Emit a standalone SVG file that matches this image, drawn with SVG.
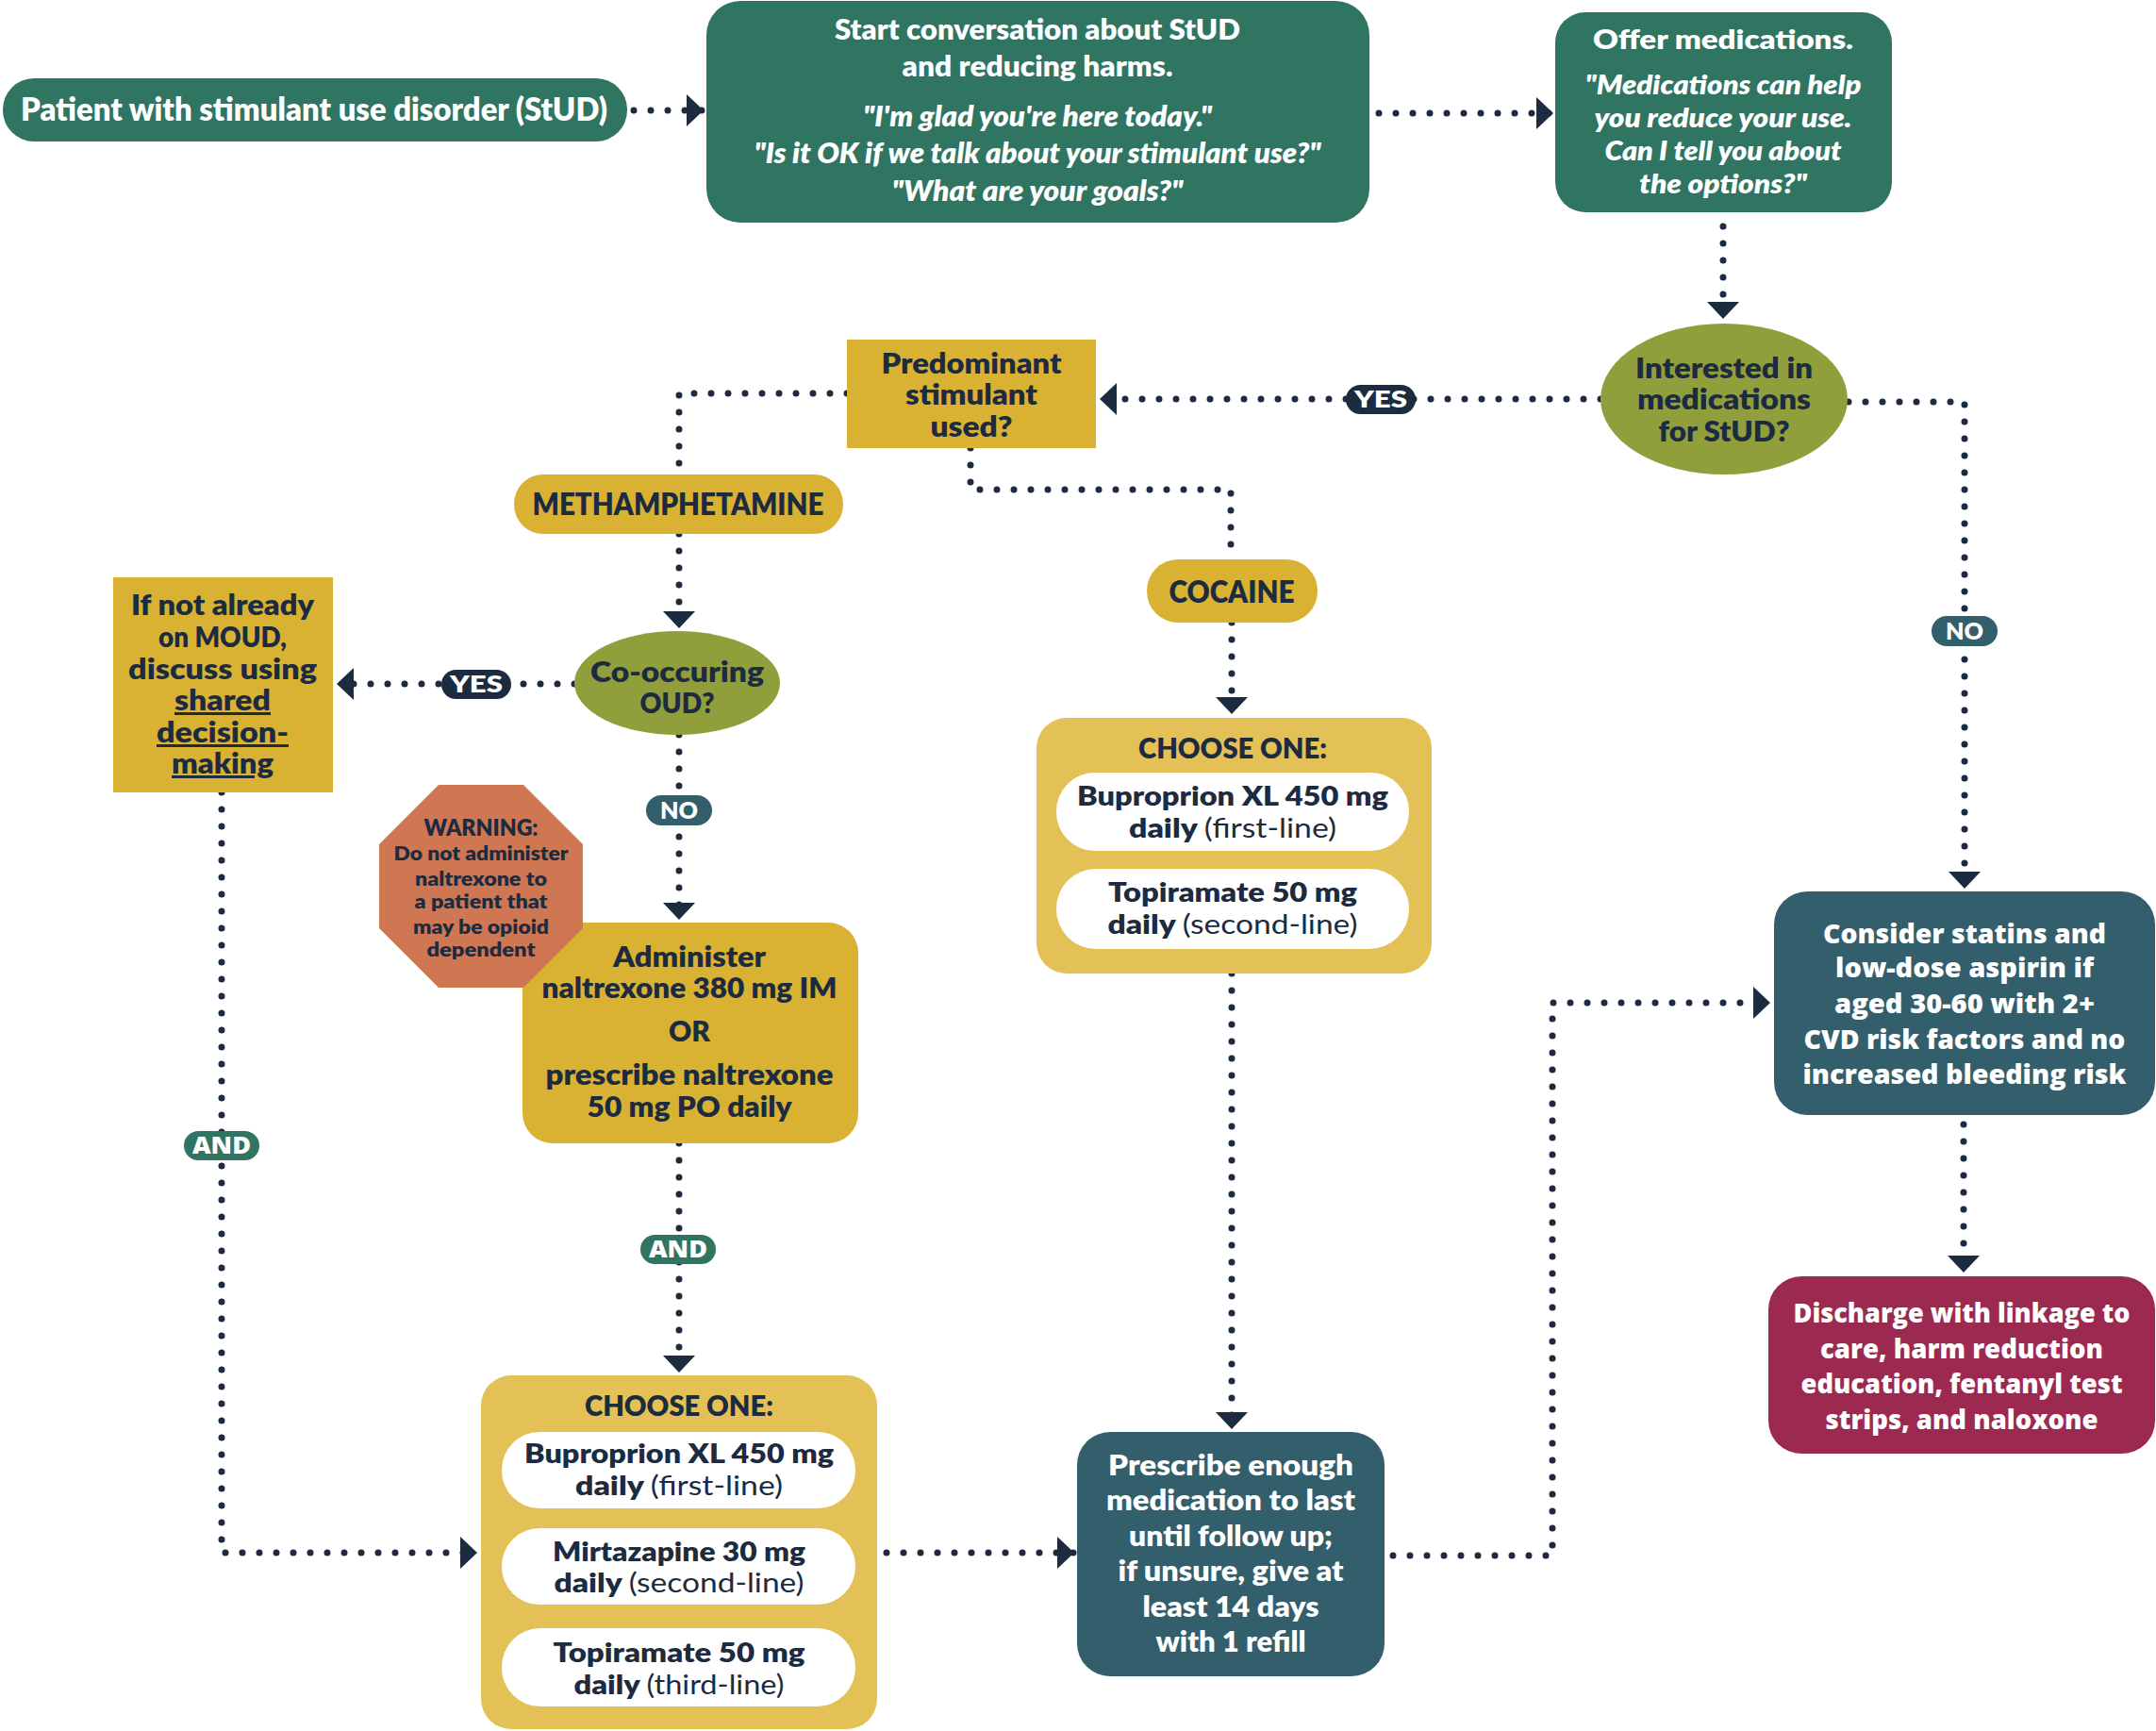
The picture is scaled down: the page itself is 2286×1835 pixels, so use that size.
<svg xmlns="http://www.w3.org/2000/svg" width="2286" height="1835" viewBox="0 0 2286 1835">
<style>
text{font-family:Lato,Roboto,"Liberation Sans",sans-serif;font-weight:800;text-anchor:middle}
.w{fill:#ffffff}
.n{fill:#1c2b40}
.it{font-style:italic}
.wide{font-family:"Open Sans",Lato,"Liberation Sans",sans-serif;font-weight:800}
.reg{font-weight:400}
.green{fill:#307462}
.slate{fill:#335e6b}
.gold{fill:#d9b133}
.lgold{fill:#e3c156}
.olive{fill:#909e3c}
.crim{fill:#9c2a50}
.orange{fill:#cf7652}
.pill{fill:#ffffff}
.c{fill:none;stroke:#1c2b40;stroke-width:7;stroke-linecap:round;stroke-dasharray:0 18}
.ca{marker-end:url(#ah)}
.lab{font-size:25px}
</style>
<defs>
<marker id="ah" viewBox="0 0 18 34" refX="18" refY="17" markerWidth="18" markerHeight="34" markerUnits="userSpaceOnUse" orient="auto">
<path d="M0,0 L18,17 L0,34 Z" fill="#1c2b40"/>
</marker>
</defs>
<rect width="2286" height="1835" fill="#ffffff"/>

<g id="connectors">
<path class="c ca" d="M672,117 H746"/>
<path class="c ca" d="M1462,120 H1647"/>
<path class="c ca" d="M1827,240 V338"/>
<path class="c ca" d="M1697,423 H1166"/>
<path class="c ca" d="M1960,426 H2083 V942"/>
<path class="c" d="M898,417 H720 V503"/>
<path class="c" d="M1029,475 V519 H1305 V593"/>
<path class="c ca" d="M720,566 V666"/>
<path class="c ca" d="M1306,660 V757"/>
<path class="c ca" d="M609,725 H357"/>
<path class="c ca" d="M720,779 V975"/>
<path class="c ca" d="M720,1212 V1455"/>
<path class="c ca" d="M235,840 V1646 H506"/>
<path class="c ca" d="M940,1646 H1139"/>
<path class="c ca" d="M1306,1032 V1515"/>
<path class="c ca" d="M1477,1649 H1646 V1063 H1877"/>
<path class="c ca" d="M2082,1192 V1349"/>
<g id="label-yes-1"><rect x="1427" y="408" width="74" height="31" rx="15.5" fill="#1c2b40"/><text class="w lab" x="1464" y="432" textLength="56" lengthAdjust="spacingAndGlyphs">YES</text></g>
<g id="label-yes-2"><rect x="468" y="710" width="74" height="31" rx="15.5" fill="#1c2b40"/><text class="w lab" x="505" y="734" textLength="56" lengthAdjust="spacingAndGlyphs">YES</text></g>
<g id="label-no-1"><rect x="2048" y="653" width="70" height="32" rx="16" class="slate"/><text class="w lab" x="2083" y="678" textLength="40" lengthAdjust="spacingAndGlyphs">NO</text></g>
<g id="label-no-2"><rect x="685" y="843" width="70" height="32" rx="16" class="slate"/><text class="w lab" x="720" y="868" textLength="40" lengthAdjust="spacingAndGlyphs">NO</text></g>
<g id="label-and-1"><rect x="679" y="1309" width="80" height="31" rx="15.5" class="green"/><text class="w lab wide" x="719" y="1333" textLength="62" lengthAdjust="spacingAndGlyphs">AND</text></g>
<g id="label-and-2"><rect x="195" y="1199" width="80" height="31" rx="15.5" class="green"/><text class="w lab wide" x="235" y="1223" textLength="62" lengthAdjust="spacingAndGlyphs">AND</text></g>
</g>

<g id="patient">
<rect x="3" y="83" width="662" height="67" rx="33" class="green"/>
<text class="w" x="333" y="128" font-size="33" textLength="622" lengthAdjust="spacingAndGlyphs">Patient with stimulant use disorder (StUD)</text>
</g>

<g id="start-conversation">
<rect x="749" y="1" width="703" height="235" rx="36" class="green"/>
<g font-size="30">
<text class="w" x="1100" y="42" textLength="430" lengthAdjust="spacingAndGlyphs">Start conversation about StUD</text>
<text class="w" x="1100" y="81" textLength="287" lengthAdjust="spacingAndGlyphs">and reducing harms.</text>
<text class="w it" x="1100" y="134" textLength="370" lengthAdjust="spacingAndGlyphs">"I'm glad you're here today."</text>
<text class="w it" x="1100" y="173" textLength="601" lengthAdjust="spacingAndGlyphs">"Is it OK if we talk about your stimulant use?"</text>
<text class="w it" x="1100" y="213" textLength="309" lengthAdjust="spacingAndGlyphs">"What are your goals?"</text>
</g>
</g>

<g id="offer-medications">
<rect x="1649" y="13" width="357" height="212" rx="32" class="green"/>
<g font-size="29">
<text class="w" x="1827" y="52" textLength="276" lengthAdjust="spacingAndGlyphs">Offer medications.</text>
<text class="w it" x="1827" y="100" textLength="293" lengthAdjust="spacingAndGlyphs">"Medications can help</text>
<text class="w it" x="1827" y="135" textLength="273" lengthAdjust="spacingAndGlyphs">you reduce your use.</text>
<text class="w it" x="1827" y="170" textLength="251" lengthAdjust="spacingAndGlyphs">Can I tell you about</text>
<text class="w it" x="1827" y="205" textLength="178" lengthAdjust="spacingAndGlyphs">the options?"</text>
</g>
</g>

<g id="interested">
<ellipse cx="1828" cy="423" rx="131" ry="80" class="olive"/>
<g font-size="30">
<text class="n" x="1828" y="401" textLength="188" lengthAdjust="spacingAndGlyphs">Interested in</text>
<text class="n" x="1828" y="434" textLength="184" lengthAdjust="spacingAndGlyphs">medications</text>
<text class="n" x="1828" y="468" textLength="139" lengthAdjust="spacingAndGlyphs">for StUD?</text>
</g>
</g>

<g id="predominant">
<rect x="898" y="360" width="264" height="115" class="gold"/>
<g font-size="30">
<text class="n" x="1030" y="396" textLength="191" lengthAdjust="spacingAndGlyphs">Predominant</text>
<text class="n" x="1030" y="429" textLength="140" lengthAdjust="spacingAndGlyphs">stimulant</text>
<text class="n" x="1030" y="463" textLength="87" lengthAdjust="spacingAndGlyphs">used?</text>
</g>
</g>

<g id="methamphetamine">
<rect x="545" y="503" width="349" height="63" rx="31" class="gold"/>
<text class="n" x="719" y="546" font-size="32" textLength="309" lengthAdjust="spacingAndGlyphs">METHAMPHETAMINE</text>
</g>

<g id="cocaine">
<rect x="1216" y="593" width="181" height="67" rx="33" class="gold"/>
<text class="n" x="1306" y="639" font-size="32" textLength="133" lengthAdjust="spacingAndGlyphs">COCAINE</text>
</g>

<g id="co-occuring">
<ellipse cx="718" cy="724" rx="109" ry="55" class="olive"/>
<g font-size="30">
<text class="n" x="718" y="723" textLength="184" lengthAdjust="spacingAndGlyphs">Co-occuring</text>
<text class="n" x="718" y="756" textLength="79" lengthAdjust="spacingAndGlyphs">OUD?</text>
</g>
</g>

<g id="shared-decision">
<rect x="120" y="612" width="233" height="228" class="gold"/>
<g font-size="30">
<text class="n" x="236" y="652" textLength="194" lengthAdjust="spacingAndGlyphs">If not already</text>
<text class="n" x="236" y="686" textLength="136" lengthAdjust="spacingAndGlyphs">on MOUD,</text>
<text class="n" x="236" y="720" textLength="200" lengthAdjust="spacingAndGlyphs">discuss using</text>
<text class="n" x="236" y="753" textLength="102" lengthAdjust="spacingAndGlyphs" text-decoration="underline">shared</text>
<text class="n" x="236" y="787" textLength="140" lengthAdjust="spacingAndGlyphs" text-decoration="underline">decision-</text>
<text class="n" x="236" y="820" textLength="108" lengthAdjust="spacingAndGlyphs" text-decoration="underline">making</text>
</g>
</g>

<g id="administer-naltrexone">
<rect x="554" y="978" width="356" height="234" rx="32" class="gold"/>
<g font-size="30">
<text class="n" x="731" y="1025" textLength="162" lengthAdjust="spacingAndGlyphs">Administer</text>
<text class="n" x="731" y="1058" textLength="313" lengthAdjust="spacingAndGlyphs">naltrexone 380 mg IM</text>
<text class="n" x="731" y="1104" textLength="44" lengthAdjust="spacingAndGlyphs">OR</text>
<text class="n" x="731" y="1150" textLength="305" lengthAdjust="spacingAndGlyphs">prescribe naltrexone</text>
<text class="n" x="731" y="1184" textLength="217" lengthAdjust="spacingAndGlyphs">50 mg PO daily</text>
</g>
</g>

<g id="warning">
<polygon points="465,832 555,832 618,895 618,984 555,1047 465,1047 402,984 402,895" class="orange"/>
<text class="n" x="510" y="886" font-size="24" textLength="121" lengthAdjust="spacingAndGlyphs">WARNING:</text>
<g font-size="20">
<text class="n" x="510" y="912" textLength="185" lengthAdjust="spacingAndGlyphs">Do not administer</text>
<text class="n" x="510" y="939" textLength="140" lengthAdjust="spacingAndGlyphs">naltrexone to</text>
<text class="n" x="510" y="963" textLength="141" lengthAdjust="spacingAndGlyphs">a patient that</text>
<text class="n" x="510" y="990" textLength="144" lengthAdjust="spacingAndGlyphs">may be opioid</text>
<text class="n" x="510" y="1014" textLength="115" lengthAdjust="spacingAndGlyphs">dependent</text>
</g>
</g>

<g id="choose-meth">
<rect x="510" y="1458" width="420" height="375" rx="32" class="lgold"/>
<text class="n" x="720" y="1501" font-size="31" textLength="200" lengthAdjust="spacingAndGlyphs">CHOOSE ONE:</text>
<rect x="532" y="1518" width="375" height="81" rx="40" class="pill"/>
<rect x="532" y="1620" width="375" height="81" rx="40" class="pill"/>
<rect x="532" y="1726" width="375" height="83" rx="41" class="pill"/>
<g font-size="29">
<text class="n" x="720" y="1551" textLength="328" lengthAdjust="spacingAndGlyphs">Buproprion XL 450 mg</text>
<text class="n" x="720" y="1585" textLength="220" lengthAdjust="spacingAndGlyphs">daily <tspan class="reg">(first-line)</tspan></text>
<text class="n" x="720" y="1655" textLength="268" lengthAdjust="spacingAndGlyphs">Mirtazapine 30 mg</text>
<text class="n" x="720" y="1688" textLength="265" lengthAdjust="spacingAndGlyphs">daily <tspan class="reg">(second-line)</tspan></text>
<text class="n" x="720" y="1762" textLength="267" lengthAdjust="spacingAndGlyphs">Topiramate 50 mg</text>
<text class="n" x="720" y="1796" textLength="223" lengthAdjust="spacingAndGlyphs">daily <tspan class="reg">(third-line)</tspan></text>
</g>
</g>

<g id="choose-cocaine">
<rect x="1099" y="761" width="419" height="271" rx="32" class="lgold"/>
<text class="n" x="1307" y="804" font-size="31" textLength="200" lengthAdjust="spacingAndGlyphs">CHOOSE ONE:</text>
<rect x="1120" y="819" width="374" height="83" rx="41" class="pill"/>
<rect x="1120" y="921" width="374" height="85" rx="42" class="pill"/>
<g font-size="29">
<text class="n" x="1307" y="854" textLength="330" lengthAdjust="spacingAndGlyphs">Buproprion XL 450 mg</text>
<text class="n" x="1307" y="888" textLength="220" lengthAdjust="spacingAndGlyphs">daily <tspan class="reg">(first-line)</tspan></text>
<text class="n" x="1307" y="956" textLength="264" lengthAdjust="spacingAndGlyphs">Topiramate 50 mg</text>
<text class="n" x="1307" y="990" textLength="265" lengthAdjust="spacingAndGlyphs">daily <tspan class="reg">(second-line)</tspan></text>
</g>
</g>

<g id="prescribe">
<rect x="1142" y="1518" width="326" height="259" rx="35" class="slate"/>
<g font-size="30">
<text class="w" x="1305" y="1564" textLength="260" lengthAdjust="spacingAndGlyphs">Prescribe enough</text>
<text class="w" x="1305" y="1601" textLength="264" lengthAdjust="spacingAndGlyphs">medication to last</text>
<text class="w" x="1305" y="1639" textLength="216" lengthAdjust="spacingAndGlyphs">until follow up;</text>
<text class="w" x="1305" y="1676" textLength="239" lengthAdjust="spacingAndGlyphs">if unsure, give at</text>
<text class="w" x="1305" y="1714" textLength="187" lengthAdjust="spacingAndGlyphs">least 14 days</text>
<text class="w" x="1305" y="1751" textLength="159" lengthAdjust="spacingAndGlyphs">with 1 refill</text>
</g>
</g>

<g id="consider-statins">
<rect x="1881" y="945" width="404" height="237" rx="35" class="slate"/>
<g font-size="28">
<text class="w wide" x="2083" y="1000" textLength="300" lengthAdjust="spacingAndGlyphs">Consider statins and</text>
<text class="w wide" x="2083" y="1036" textLength="274" lengthAdjust="spacingAndGlyphs">low-dose aspirin if</text>
<text class="w wide" x="2083" y="1074" textLength="276" lengthAdjust="spacingAndGlyphs">aged 30-60 with 2+</text>
<text class="w wide" x="2083" y="1112" textLength="341" lengthAdjust="spacingAndGlyphs">CVD risk factors and no</text>
<text class="w wide" x="2083" y="1149" textLength="343" lengthAdjust="spacingAndGlyphs">increased bleeding risk</text>
</g>
</g>

<g id="discharge">
<rect x="1875" y="1353" width="410" height="188" rx="35" class="crim"/>
<g font-size="28">
<text class="w wide" x="2080" y="1402" textLength="357" lengthAdjust="spacingAndGlyphs">Discharge with linkage to</text>
<text class="w wide" x="2080" y="1440" textLength="300" lengthAdjust="spacingAndGlyphs">care, harm reduction</text>
<text class="w wide" x="2080" y="1477" textLength="341" lengthAdjust="spacingAndGlyphs">education, fentanyl test</text>
<text class="w wide" x="2080" y="1515" textLength="289" lengthAdjust="spacingAndGlyphs">strips, and naloxone</text>
</g>
</g>
</svg>
